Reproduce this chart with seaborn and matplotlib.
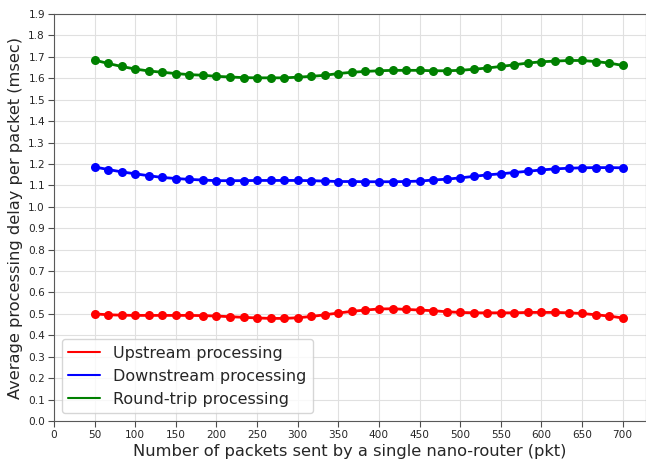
import matplotlib
matplotlib.use("Agg")
import matplotlib.pyplot as plt
from matplotlib.lines import Line2D
import seaborn as sns
import numpy as np
import pandas as pd

# packets sent (pkt), 40 samples from 50 to 700
packets = np.linspace(50, 700, 40)

upstream = [0.500, 0.496, 0.494, 0.493, 0.493, 0.493, 0.493, 0.493, 0.492, 0.490,
            0.487, 0.484, 0.481, 0.479, 0.479, 0.482, 0.488, 0.496, 0.504, 0.512,
            0.518, 0.523, 0.524, 0.521, 0.518, 0.515, 0.510, 0.507, 0.505, 0.505,
            0.505, 0.505, 0.507, 0.507, 0.507, 0.505, 0.502, 0.496, 0.490, 0.481]

downstream = [1.186, 1.174, 1.163, 1.154, 1.145, 1.137, 1.132, 1.128, 1.125, 1.122,
              1.122, 1.122, 1.123, 1.123, 1.123, 1.123, 1.122, 1.120, 1.118, 1.118,
              1.117, 1.117, 1.117, 1.118, 1.120, 1.125, 1.129, 1.135, 1.142, 1.149,
              1.154, 1.160, 1.166, 1.172, 1.177, 1.180, 1.182, 1.183, 1.183, 1.182]

roundtrip = [1.685, 1.669, 1.655, 1.643, 1.634, 1.628, 1.622, 1.617, 1.614, 1.609,
             1.606, 1.603, 1.602, 1.602, 1.602, 1.605, 1.609, 1.614, 1.622, 1.628,
             1.632, 1.635, 1.637, 1.637, 1.637, 1.635, 1.635, 1.637, 1.642, 1.648,
             1.655, 1.663, 1.671, 1.677, 1.680, 1.683, 1.683, 1.678, 1.671, 1.660]

labels = ["Upstream processing", "Downstream processing", "Round-trip processing"]
colors = ["red", "blue", "green"]

df = pd.DataFrame({
    "packets": np.tile(packets, 3),
    "delay": upstream + downstream + roundtrip,
    "series": np.repeat(labels, len(packets)),
})

sns.set_style("whitegrid", {
    "xtick.bottom": True, "ytick.left": True,
    "axes.edgecolor": ".35", "grid.color": ".88",
})
plt.rcParams['font.family'] = ['DejaVu Sans']

fig = plt.figure(figsize=(6.46, 4.62), dpi=100)
ax = fig.add_axes([0.0836, 0.0887, 0.9164, 0.881])

sns.lineplot(data=df, x="packets", y="delay", hue="series", palette=colors,
             hue_order=labels, marker="o", markersize=6.5, markeredgewidth=0,
             linewidth=2, ax=ax, legend=False)

ax.set_xlim(0, 728.7)
ax.set_ylim(0, 1.9)
ax.set_xticks(np.arange(0, 701, 50))
ax.set_yticks(np.arange(0, 1.91, 0.1))
ax.set_yticklabels([f"{v:.1f}" for v in np.arange(0, 1.91, 0.1)])
ax.tick_params(labelsize=7.6, length=4, pad=2.5, colors=".3", labelcolor=".15")
ax.set_xlabel("Number of packets sent by a single nano-router (pkt)", fontsize=11.7,
              labelpad=3)
ax.set_ylabel("Average processing delay per packet (msec)", fontsize=11.7,
              labelpad=4)

# legend shows plain line handles only
handles = [Line2D([0], [0], color=c, lw=1.5) for c in colors]
ax.legend(handles, labels, loc="lower left", fontsize=11.5, frameon=True)

fig.savefig("out.png", dpi=100)
